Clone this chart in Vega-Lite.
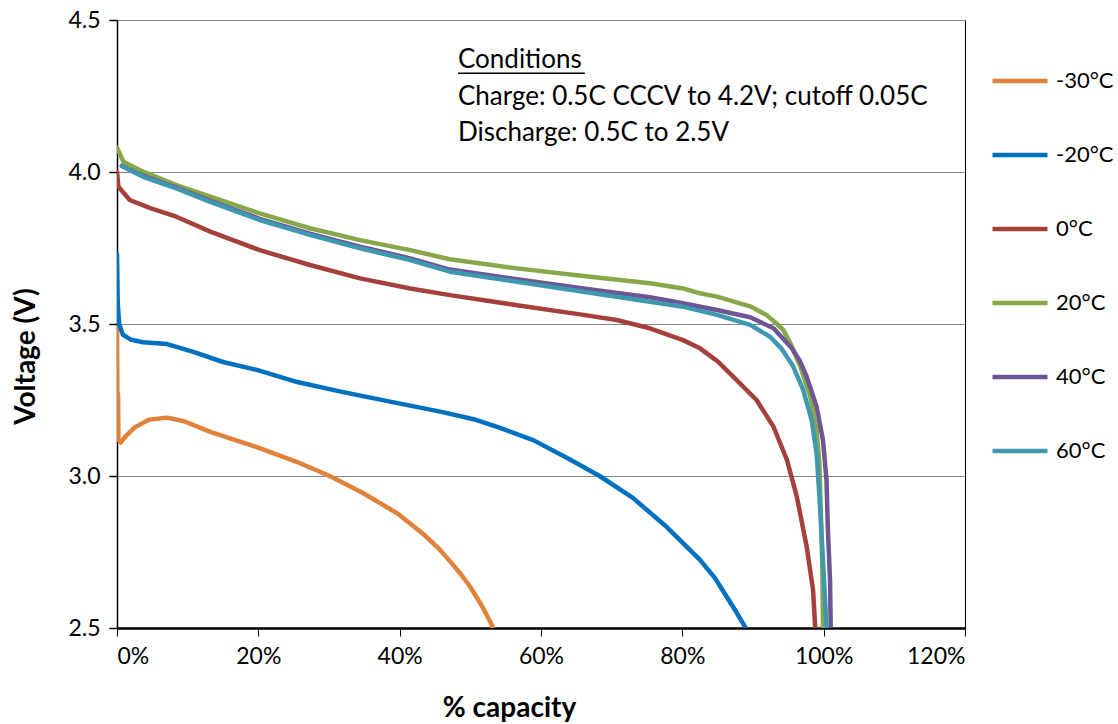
{
  "$schema": "https://vega.github.io/schema/vega-lite/v6.json",
  "width": 848,
  "height": 608,
  "autosize": {"type": "none"},
  "padding": {"left": 117, "top": 20, "right": 153, "bottom": 96},
  "background": "white",
  "config": {
    "font": "Lato",
    "view": {"stroke": "black", "strokeWidth": 1}
  },
  "datasets": {
    "curves": [
      {"series": "-30°C", "capacity": 0, "voltage": 3.5},
      {"series": "-30°C", "capacity": 0.0008, "voltage": 3.12},
      {"series": "-30°C", "capacity": 0.0015, "voltage": 3.27},
      {"series": "-30°C", "capacity": 0.002, "voltage": 3.12},
      {"series": "-30°C", "capacity": 0.005, "voltage": 3.11},
      {"series": "-30°C", "capacity": 0.012, "voltage": 3.13},
      {"series": "-30°C", "capacity": 0.025, "voltage": 3.16},
      {"series": "-30°C", "capacity": 0.045, "voltage": 3.185},
      {"series": "-30°C", "capacity": 0.071, "voltage": 3.192},
      {"series": "-30°C", "capacity": 0.095, "voltage": 3.18},
      {"series": "-30°C", "capacity": 0.132, "voltage": 3.145},
      {"series": "-30°C", "capacity": 0.198, "voltage": 3.095},
      {"series": "-30°C", "capacity": 0.255, "voltage": 3.046},
      {"series": "-30°C", "capacity": 0.301, "voltage": 3.0},
      {"series": "-30°C", "capacity": 0.348, "voltage": 2.944},
      {"series": "-30°C", "capacity": 0.396, "voltage": 2.878},
      {"series": "-30°C", "capacity": 0.433, "voltage": 2.81},
      {"series": "-30°C", "capacity": 0.455, "voltage": 2.762},
      {"series": "-30°C", "capacity": 0.471, "voltage": 2.72},
      {"series": "-30°C", "capacity": 0.487, "voltage": 2.676},
      {"series": "-30°C", "capacity": 0.5, "voltage": 2.635},
      {"series": "-30°C", "capacity": 0.517, "voltage": 2.57},
      {"series": "-30°C", "capacity": 0.532, "voltage": 2.503},

      {"series": "-20°C", "capacity": 0, "voltage": 3.73},
      {"series": "-20°C", "capacity": 0.001, "voltage": 3.57},
      {"series": "-20°C", "capacity": 0.003, "voltage": 3.5},
      {"series": "-20°C", "capacity": 0.0085, "voltage": 3.464},
      {"series": "-20°C", "capacity": 0.02, "voltage": 3.448},
      {"series": "-20°C", "capacity": 0.037, "voltage": 3.44},
      {"series": "-20°C", "capacity": 0.071, "voltage": 3.434},
      {"series": "-20°C", "capacity": 0.108, "voltage": 3.408},
      {"series": "-20°C", "capacity": 0.15, "voltage": 3.375},
      {"series": "-20°C", "capacity": 0.198, "voltage": 3.349},
      {"series": "-20°C", "capacity": 0.255, "voltage": 3.309},
      {"series": "-20°C", "capacity": 0.32, "voltage": 3.276},
      {"series": "-20°C", "capacity": 0.39, "voltage": 3.243},
      {"series": "-20°C", "capacity": 0.461, "voltage": 3.21},
      {"series": "-20°C", "capacity": 0.509, "voltage": 3.184},
      {"series": "-20°C", "capacity": 0.542, "voltage": 3.158},
      {"series": "-20°C", "capacity": 0.589, "voltage": 3.118},
      {"series": "-20°C", "capacity": 0.637, "voltage": 3.059},
      {"series": "-20°C", "capacity": 0.683, "voltage": 3.0},
      {"series": "-20°C", "capacity": 0.73, "voltage": 2.928},
      {"series": "-20°C", "capacity": 0.778, "voltage": 2.832},
      {"series": "-20°C", "capacity": 0.825, "voltage": 2.724},
      {"series": "-20°C", "capacity": 0.846, "voltage": 2.665},
      {"series": "-20°C", "capacity": 0.863, "voltage": 2.602},
      {"series": "-20°C", "capacity": 0.877, "voltage": 2.55},
      {"series": "-20°C", "capacity": 0.889, "voltage": 2.503},

      {"series": "0°C", "capacity": 0, "voltage": 4.0},
      {"series": "0°C", "capacity": 0.002, "voltage": 3.952},
      {"series": "0°C", "capacity": 0.018, "voltage": 3.908},
      {"series": "0°C", "capacity": 0.047, "voltage": 3.881},
      {"series": "0°C", "capacity": 0.084, "voltage": 3.853},
      {"series": "0°C", "capacity": 0.132, "voltage": 3.804},
      {"series": "0°C", "capacity": 0.202, "voltage": 3.743},
      {"series": "0°C", "capacity": 0.273, "voltage": 3.694},
      {"series": "0°C", "capacity": 0.344, "voltage": 3.65},
      {"series": "0°C", "capacity": 0.415, "voltage": 3.617},
      {"series": "0°C", "capacity": 0.471, "voltage": 3.595},
      {"series": "0°C", "capacity": 0.566, "voltage": 3.562},
      {"series": "0°C", "capacity": 0.66, "voltage": 3.53},
      {"series": "0°C", "capacity": 0.707, "voltage": 3.513},
      {"series": "0°C", "capacity": 0.754, "voltage": 3.486},
      {"series": "0°C", "capacity": 0.801, "voltage": 3.447},
      {"series": "0°C", "capacity": 0.825, "voltage": 3.42},
      {"series": "0°C", "capacity": 0.85, "voltage": 3.377},
      {"series": "0°C", "capacity": 0.872, "voltage": 3.327},
      {"series": "0°C", "capacity": 0.905, "voltage": 3.25},
      {"series": "0°C", "capacity": 0.929, "voltage": 3.162},
      {"series": "0°C", "capacity": 0.948, "voltage": 3.053},
      {"series": "0°C", "capacity": 0.962, "voltage": 2.932},
      {"series": "0°C", "capacity": 0.976, "voltage": 2.767},
      {"series": "0°C", "capacity": 0.985, "voltage": 2.625},
      {"series": "0°C", "capacity": 0.988, "voltage": 2.504},

      {"series": "20°C", "capacity": 0, "voltage": 4.08},
      {"series": "20°C", "capacity": 0.009, "voltage": 4.034},
      {"series": "20°C", "capacity": 0.037, "voltage": 4.001},
      {"series": "20°C", "capacity": 0.084, "voltage": 3.957},
      {"series": "20°C", "capacity": 0.132, "voltage": 3.919},
      {"series": "20°C", "capacity": 0.202, "voltage": 3.864},
      {"series": "20°C", "capacity": 0.273, "voltage": 3.815},
      {"series": "20°C", "capacity": 0.344, "voltage": 3.776},
      {"series": "20°C", "capacity": 0.415, "voltage": 3.743},
      {"series": "20°C", "capacity": 0.471, "voltage": 3.713},
      {"series": "20°C", "capacity": 0.566, "voltage": 3.683},
      {"series": "20°C", "capacity": 0.66, "voltage": 3.658},
      {"series": "20°C", "capacity": 0.754, "voltage": 3.634},
      {"series": "20°C", "capacity": 0.801, "voltage": 3.617},
      {"series": "20°C", "capacity": 0.825, "voltage": 3.601},
      {"series": "20°C", "capacity": 0.849, "voltage": 3.59},
      {"series": "20°C", "capacity": 0.896, "voltage": 3.558},
      {"series": "20°C", "capacity": 0.919, "voltage": 3.53},
      {"series": "20°C", "capacity": 0.934, "voltage": 3.5},
      {"series": "20°C", "capacity": 0.943, "voltage": 3.48},
      {"series": "20°C", "capacity": 0.953, "voltage": 3.436},
      {"series": "20°C", "capacity": 0.967, "voltage": 3.36},
      {"series": "20°C", "capacity": 0.981, "voltage": 3.261},
      {"series": "20°C", "capacity": 0.99, "voltage": 3.151},
      {"series": "20°C", "capacity": 0.994, "voltage": 3.042},
      {"series": "20°C", "capacity": 0.996, "voltage": 2.877},
      {"series": "20°C", "capacity": 0.998, "voltage": 2.713},
      {"series": "20°C", "capacity": 0.999, "voltage": 2.504},

      {"series": "40°C", "capacity": 0.007, "voltage": 4.02},
      {"series": "40°C", "capacity": 0.037, "voltage": 3.987},
      {"series": "40°C", "capacity": 0.084, "voltage": 3.949},
      {"series": "40°C", "capacity": 0.132, "voltage": 3.905},
      {"series": "40°C", "capacity": 0.202, "voltage": 3.846},
      {"series": "40°C", "capacity": 0.273, "voltage": 3.797},
      {"series": "40°C", "capacity": 0.344, "voltage": 3.754},
      {"series": "40°C", "capacity": 0.415, "voltage": 3.716},
      {"series": "40°C", "capacity": 0.471, "voltage": 3.679},
      {"series": "40°C", "capacity": 0.566, "voltage": 3.647},
      {"series": "40°C", "capacity": 0.66, "voltage": 3.617},
      {"series": "40°C", "capacity": 0.754, "voltage": 3.588},
      {"series": "40°C", "capacity": 0.801, "voltage": 3.568},
      {"series": "40°C", "capacity": 0.849, "voltage": 3.546},
      {"series": "40°C", "capacity": 0.896, "voltage": 3.522},
      {"series": "40°C", "capacity": 0.929, "voltage": 3.486},
      {"series": "40°C", "capacity": 0.955, "voltage": 3.42},
      {"series": "40°C", "capacity": 0.966, "voltage": 3.38},
      {"series": "40°C", "capacity": 0.976, "voltage": 3.327},
      {"series": "40°C", "capacity": 0.99, "voltage": 3.228},
      {"series": "40°C", "capacity": 0.999, "voltage": 3.118},
      {"series": "40°C", "capacity": 1.004, "voltage": 2.987},
      {"series": "40°C", "capacity": 1.006, "voltage": 2.822},
      {"series": "40°C", "capacity": 1.009, "voltage": 2.658},
      {"series": "40°C", "capacity": 1.01, "voltage": 2.504},

      {"series": "60°C", "capacity": 0.007, "voltage": 4.02},
      {"series": "60°C", "capacity": 0.037, "voltage": 3.984},
      {"series": "60°C", "capacity": 0.084, "voltage": 3.946},
      {"series": "60°C", "capacity": 0.132, "voltage": 3.902},
      {"series": "60°C", "capacity": 0.202, "voltage": 3.842},
      {"series": "60°C", "capacity": 0.273, "voltage": 3.793},
      {"series": "60°C", "capacity": 0.344, "voltage": 3.749},
      {"series": "60°C", "capacity": 0.415, "voltage": 3.71},
      {"series": "60°C", "capacity": 0.471, "voltage": 3.672},
      {"series": "60°C", "capacity": 0.566, "voltage": 3.639},
      {"series": "60°C", "capacity": 0.66, "voltage": 3.606},
      {"series": "60°C", "capacity": 0.754, "voltage": 3.573},
      {"series": "60°C", "capacity": 0.801, "voltage": 3.557},
      {"series": "60°C", "capacity": 0.849, "voltage": 3.53},
      {"series": "60°C", "capacity": 0.896, "voltage": 3.497},
      {"series": "60°C", "capacity": 0.924, "voltage": 3.458},
      {"series": "60°C", "capacity": 0.94, "voltage": 3.42},
      {"series": "60°C", "capacity": 0.957, "voltage": 3.36},
      {"series": "60°C", "capacity": 0.971, "voltage": 3.283},
      {"series": "60°C", "capacity": 0.983, "voltage": 3.184},
      {"series": "60°C", "capacity": 0.99, "voltage": 3.075},
      {"series": "60°C", "capacity": 0.994, "voltage": 2.932},
      {"series": "60°C", "capacity": 0.998, "voltage": 2.767},
      {"series": "60°C", "capacity": 1.004, "voltage": 2.504}
    ],
    "notes": [
      {"text": "Conditions", "capacity": 0.4825, "voltage": 4.368},
      {"text": "Charge: 0.5C CCCV to 4.2V; cutoff 0.05C", "capacity": 0.4825, "voltage": 4.247},
      {"text": "Discharge: 0.5C to 2.5V", "capacity": 0.4825, "voltage": 4.128}
    ],
    "underline": [
      {"start": 0.4825, "end": 0.662, "voltage": 4.325}
    ]
  },
  "layer": [
    {
      "data": {"name": "curves"},
      "mark": {"type": "line", "strokeWidth": 4.5, "strokeCap": "round", "strokeJoin": "round", "clip": true},
      "encoding": {
        "x": {
          "field": "capacity", "type": "quantitative",
          "scale": {"domain": [0, 1.2], "nice": false, "zero": false},
          "axis": {
            "title": "% capacity", "format": ".0%", "values": [0, 0.2, 0.4, 0.6, 0.8, 1.0, 1.2],
            "grid": false, "domainColor": "black", "domainWidth": 2.5,
            "tickColor": "black", "tickSize": 8, "tickWidth": 1,
            "labelFontSize": 23, "labelColor": "black", "labelPadding": 9, "labelFont": "Lato",
            "titleFontSize": 28, "titleFontWeight": "bold", "titleColor": "black", "titleFont": "Lato",
            "titlePadding": 26, "titleX": 392
          }
        },
        "y": {
          "field": "voltage", "type": "quantitative",
          "scale": {"domain": [2.5, 4.5], "nice": false, "zero": false},
          "axis": {
            "title": "Voltage (V)", "values": [2.5, 3.0, 3.5, 4.0, 4.5], "format": ".1f",
            "grid": true, "gridColor": "#868686", "gridWidth": 1.2,
            "domainColor": "black", "domainWidth": 1.5,
            "tickColor": "black", "tickSize": 8, "tickWidth": 1.5,
            "labelFontSize": 23, "labelColor": "black", "labelPadding": 9, "labelFont": "Lato",
            "titleFontSize": 28, "titleFontWeight": "bold", "titleColor": "black", "titleFont": "Lato",
            "titlePadding": 27, "titleY": 336
          }
        },
        "color": {
          "field": "series", "type": "nominal",
          "scale": {
            "domain": ["-30°C", "-20°C", "0°C", "20°C", "40°C", "60°C"],
            "range": ["#E0823A", "#0070C0", "#A6403C", "#88A64A", "#6E5594", "#3D98B0"]
          },
          "legend": {
            "title": null, "orient": "none", "legendX": 873, "legendY": 31,
            "symbolType": "stroke", "symbolSize": 3025, "symbolStrokeWidth": 4.5,
            "labelFontSize": 22, "labelColor": "black", "labelFont": "Lato",
            "labelOffset": 6, "rowPadding": 33
          }
        },
        "order": {"value": null}
      }
    },
    {
      "data": {"name": "notes"},
      "mark": {"type": "text", "align": "left", "baseline": "middle", "fontSize": 26, "font": "Lato", "color": "black"},
      "encoding": {
        "x": {"field": "capacity", "type": "quantitative"},
        "y": {"field": "voltage", "type": "quantitative"},
        "text": {"field": "text"}
      }
    },
    {
      "data": {"name": "underline"},
      "mark": {"type": "rule", "color": "black", "strokeWidth": 1.5},
      "encoding": {
        "x": {"field": "start", "type": "quantitative"},
        "x2": {"field": "end"},
        "y": {"field": "voltage", "type": "quantitative"}
      }
    }
  ]
}
